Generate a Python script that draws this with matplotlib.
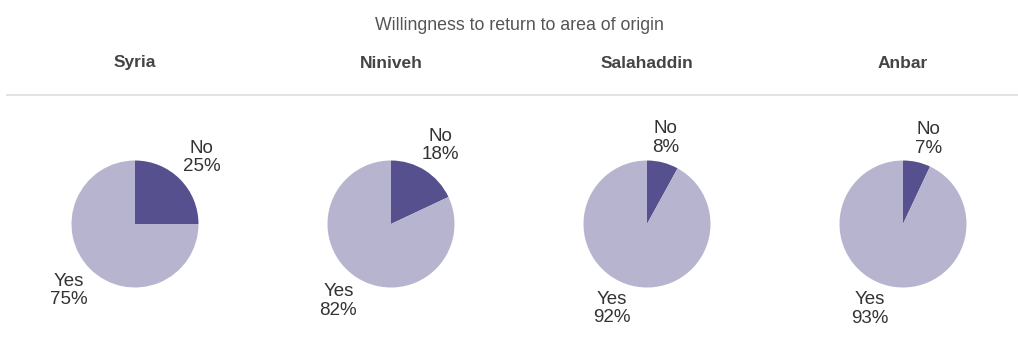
import matplotlib
matplotlib.use("Agg")
import matplotlib.pyplot as plt
import numpy as np

# share of respondents willing to return, by area of origin
regions = ["Syria", "Niniveh", "Salahaddin", "Anbar"]
no_pct = [25, 18, 8, 7]
yes_pct = [75, 82, 92, 93]
answers = ["No", "Yes"]

W, H = 1018, 347
dark = "#56508e"
light = "#b6b4ce"
# small hand nudges (degrees) of the label angles, No / Yes per pie
nudge = [(0, 0), (0, -2), (2, -8), (-4, -9)]
plt.rcParams["font.family"] = ["Liberation Sans", "DejaVu Sans"]

fig = plt.figure(figsize=(W / 100, H / 100), dpi=100)
fig.patch.set_facecolor("white")

fig.text(519 / W, 1 - 25 / H, "Willingness to return to area of origin",
         ha="center", va="center", fontsize=12.8, color="#555555")

# thin separator under the region headings
fig.add_artist(plt.Line2D([7 / W, 1.0], [1 - 95 / H, 1 - 95 / H],
                          color="#dddddd", linewidth=1.2))

r_px = 63.5
gap_px = 4.5
box = 2 * 1.25 * r_px
renderer = fig.canvas.get_renderer()
for i, name in enumerate(regions):
    cx = 135 + i * 256
    cy = 224
    fig.text(cx / W, 1 - 63 / H, name, ha="center", va="center",
             fontsize=12.5, fontweight="bold", color="#444444")

    ax = fig.add_axes([(cx - box / 2) / W, (H - cy - box / 2) / H, box / W, box / H])
    vals = [no_pct[i], yes_pct[i]]
    wedges, _ = ax.pie(vals, colors=[dark, light], startangle=90,
                       counterclock=False)
    ax.set_xlim(-1.25, 1.25)
    ax.set_ylim(-1.25, 1.25)
    ax.set_aspect("equal")

    # labels sit just outside the rim, pushed out by their own box size
    for w, a, v, dn in zip(wedges, answers, vals, nudge[i]):
        t = ax.text(0, 0, f"{a}\n{v}%", ha="center", va="center",
                    fontsize=13.5, color="#333333", linespacing=1.1)
        bb = t.get_window_extent(renderer)
        ang = np.deg2rad((w.theta1 + w.theta2) / 2 + dn)
        c, s = np.cos(ang), np.sin(ang)
        dist = r_px + gap_px + bb.width / 2 * abs(c) + bb.height / 2 * abs(s)
        t.set_position((dist / r_px * c, dist / r_px * s))

fig.savefig("out.png", dpi=100, facecolor="white")
